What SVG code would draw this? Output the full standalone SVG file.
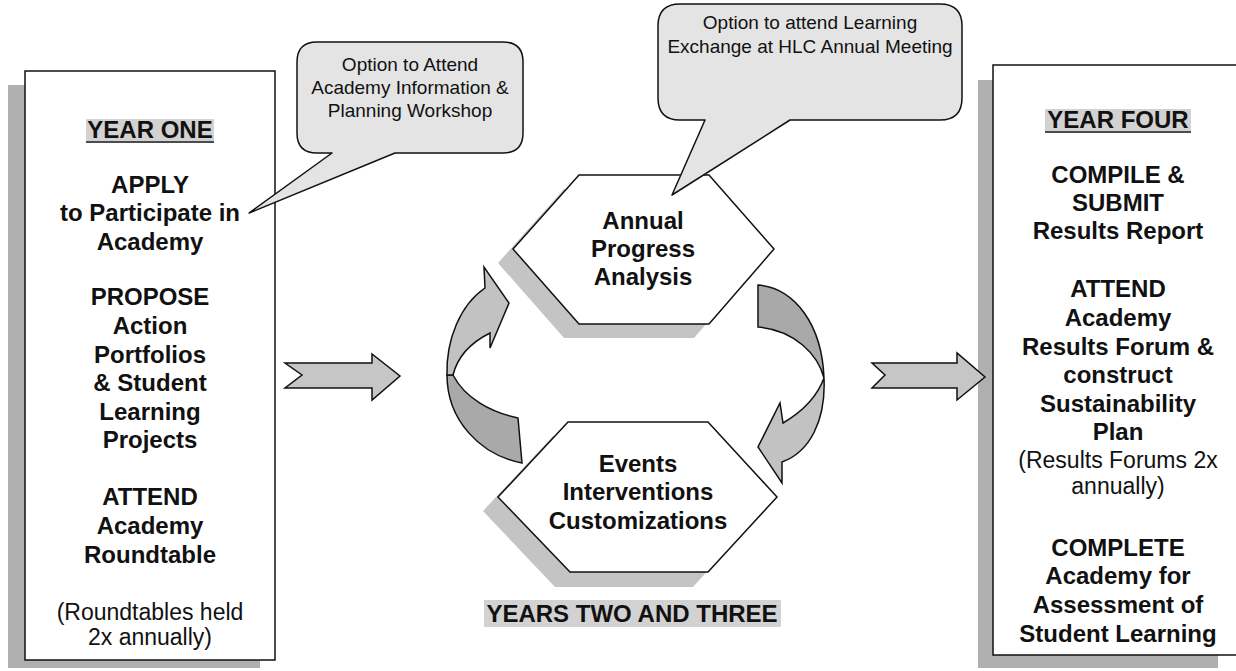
<svg xmlns="http://www.w3.org/2000/svg" width="1236" height="671" viewBox="0 0 1236 671">
<style>
  text { font-family: "Liberation Sans", Arial, sans-serif; fill: #111; }
  .b { font-weight: bold; font-size: 24px; text-anchor: middle; }
  .r { font-size: 23px; text-anchor: middle; }
  .c { font-size: 19px; text-anchor: middle; }
  .box { fill: #fff; stroke: #111; stroke-width: 1.5; }
  .shadow { fill: #b0b0b0; }
  .hex { fill: #fff; stroke: #111; stroke-width: 1.5; }
  .hexsh { fill: #c4c4c4; }
  .callout { fill: #e4e4e4; stroke: #111; stroke-width: 1.5; stroke-linejoin: round; }
  .blk { fill: #c6c6c6; stroke: #111; stroke-width: 1.5; stroke-linejoin: miter; }
  .arcA { fill: #a9a9a9; stroke: #111; stroke-width: 1.5; }
  .arcB { fill: #c2c2c2; stroke: #111; stroke-width: 1.5; }
  .hl { fill: #d2d2d2; }
</style>

<!-- Year one box -->
<g id="year-one">
  <rect class="shadow" x="8" y="85" width="252" height="583"/>
  <rect class="box" x="25" y="71" width="250" height="589"/>
  <rect class="hl" x="86" y="119" width="128" height="22"/>
  <line x1="86" y1="142" x2="214" y2="142" stroke="#111" stroke-width="1.5"/>
  <text class="b" x="150" y="138">YEAR ONE</text>
  <text class="b" x="150" y="193">APPLY</text>
  <text class="b" x="150" y="221">to Participate in</text>
  <text class="b" x="150" y="250">Academy</text>
  <text class="b" x="150" y="305">PROPOSE</text>
  <text class="b" x="150" y="334">Action</text>
  <text class="b" x="150" y="363">Portfolios</text>
  <text class="b" x="150" y="391">&amp; Student</text>
  <text class="b" x="150" y="420">Learning</text>
  <text class="b" x="150" y="448">Projects</text>
  <text class="b" x="150" y="505">ATTEND</text>
  <text class="b" x="150" y="534">Academy</text>
  <text class="b" x="150" y="563">Roundtable</text>
  <text class="r" x="150" y="620">(Roundtables held</text>
  <text class="r" x="150" y="645">2x annually)</text>
</g>

<!-- Year four box -->
<g id="year-four">
  <rect class="shadow" x="978" y="80" width="240" height="588"/>
  <rect class="box" x="993" y="65" width="250" height="590"/>
  <rect class="hl" x="1045" y="109" width="146" height="22"/>
  <line x1="1045" y1="132" x2="1191" y2="132" stroke="#111" stroke-width="1.5"/>
  <text class="b" x="1118" y="128">YEAR FOUR</text>
  <text class="b" x="1118" y="183">COMPILE &amp;</text>
  <text class="b" x="1118" y="211">SUBMIT</text>
  <text class="b" x="1118" y="239">Results Report</text>
  <text class="b" x="1118" y="297">ATTEND</text>
  <text class="b" x="1118" y="326">Academy</text>
  <text class="b" x="1118" y="355">Results Forum &amp;</text>
  <text class="b" x="1118" y="383">construct</text>
  <text class="b" x="1118" y="412">Sustainability</text>
  <text class="b" x="1118" y="440">Plan</text>
  <text class="r" x="1118" y="468">(Results Forums 2x</text>
  <text class="r" x="1118" y="494">annually)</text>
  <text class="b" x="1118" y="556">COMPLETE</text>
  <text class="b" x="1118" y="584">Academy for</text>
  <text class="b" x="1118" y="613">Assessment of</text>
  <text class="b" x="1118" y="642">Student Learning</text>
</g>

<!-- Annual progress hexagon -->
<g id="annual-progress">
  <polygon class="hexsh" points="564,189 694,189 759,263 694,338 564,338 498,263"/>
  <polygon class="hex" points="579,175 709,175 774,249 709,324 579,324 513,249"/>
  <text class="b" x="643" y="229">Annual</text>
  <text class="b" x="643" y="257">Progress</text>
  <text class="b" x="643" y="285">Analysis</text>
</g>

<!-- Events hexagon -->
<g id="events">
  <polygon class="hexsh" points="553,436 693,436 762,511 693,587 555,587 483,511"/>
  <polygon class="hex" points="568,422 708,422 777,497 708,572 570,572 498,497"/>
  <text class="b" x="638" y="472">Events</text>
  <text class="b" x="638" y="500">Interventions</text>
  <text class="b" x="638" y="529">Customizations</text>
</g>

<g id="years-two-three">
  <rect class="hl" x="484" y="600" width="297" height="27"/>
  <text class="b" x="632" y="622">YEARS TWO AND THREE</text>
</g>

<!-- Callouts -->
<g id="callout-workshop">
  <path class="callout" d="M317,42 H503 Q523,42 523,62 V133 Q523,153 503,153 H395 L249,213 L332,153 H317 Q297,153 297,133 V62 Q297,42 317,42 Z"/>
  <text class="c" x="410" y="71">Option to Attend</text>
  <text class="c" x="410" y="94">Academy Information &amp;</text>
  <text class="c" x="410" y="117">Planning Workshop</text>
</g>

<g id="callout-exchange">
  <path class="callout" d="M680,4 H940 Q962,4 962,26 V98 Q962,120 940,120 H790 L672,195 L705,120 H680 Q658,120 658,98 V26 Q658,4 680,4 Z"/>
  <text class="c" x="810" y="29">Option to attend Learning</text>
  <text class="c" x="810" y="53">Exchange at HLC Annual Meeting</text>
</g>

<!-- Connectors -->
<g id="connectors">
  <polygon class="blk" points="285,363 372,363 372,354 400,376 372,400 372,388 285,388 302,375"/>
  <polygon class="blk" points="872,363 957,363 957,353 985,377 957,400 957,388 872,388 885,375"/>
  <!-- left circular arrow -->
  <path class="arcA" d="M447,375 C447,420 480,455 522,463 L518,418 C490,412 465,398 453,375 Z"/>
  <path class="arcB" d="M447,375 C446,340 460,305 485,288 L484,267 L509,303 L490,348 L490,333 C472,342 458,355 453,375 Z"/>
  <!-- right circular arrow -->
  <path class="arcA" d="M758,285 C795,288 822,325 824,378 C818,355 795,330 758,327 Z"/>
  <path class="arcB" d="M824,378 C826,420 810,452 782,462 L782,483 L758,447 L780,403 L783,423 C800,413 816,400 824,378 Z"/>
</g>
</svg>
